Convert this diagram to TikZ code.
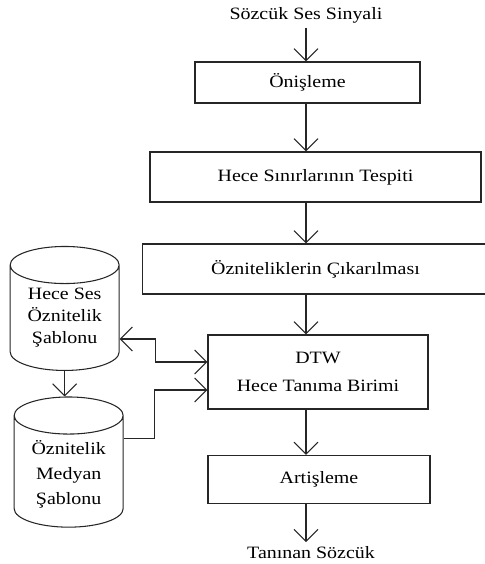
\documentclass[tikz,border=0pt]{standalone}
\usepackage{fontspec}
\setmainfont{Liberation Serif}[FakeStretch=1.15]
\usetikzlibrary{shapes.geometric,arrows.meta,positioning}

\tikzstyle{block} = [rectangle, draw=black!85, line width=0.8pt, text centered, align=center, inner sep=0pt]
\tikzstyle{base} = [cylinder, shape border rotate=90, draw=black!85, line width=0.8pt, aspect=0.5,
    align=center, minimum width=81.75pt, inner sep=0pt]
\tikzstyle{line} = [draw, line width=0.8pt, color=black!85, ->]

\begin{document}
\begin{tikzpicture}[node distance=70pt, font=\fontsize{13}{17}\selectfont,
    >={Straight Barb[length=9pt,width=18pt]}]
	\useasboundingbox (0,0) rectangle (363.75pt,-423pt);
	% Nodes
	\node (Sozcuk) at (229.5pt,-11.25pt) {Sözcük Ses Sinyali};
	\node [block, below of=Sozcuk, node distance=50.6pt, xshift=1.1pt, minimum width=168.75pt, minimum height=30.75pt] (Onisleme) {Önişleme};
	\node [block, below of=Onisleme, node distance=70.9pt, xshift=6pt, minimum width=248.25pt, minimum height=37.5pt] (Hece) {Hece Sınırlarının Tespiti};
	\node [block, below of=Hece, node distance=69pt, minimum width=259.5pt, minimum height=37.5pt] (Oznitelik) {Özniteliklerin Çıkarılması};
	\node [block, below of=Oznitelik, node distance=77.25pt, xshift=1.9pt, minimum width=165pt, minimum height=55.5pt] (DTW) {DTW\\[4pt]Hece Tanıma Birimi};
	\node [block, below of=DTW, node distance=80.6pt, xshift=0.75pt, minimum width=166.5pt, minimum height=36pt] (Artisleme) {Artişleme};
	\node [below of=Artisleme, node distance=55.1pt, xshift=-6pt] (Taninan) {Tanınan Sözcük};
	\node [base, left of=DTW, node distance=190pt, yshift=40.5pt, minimum height=93pt, font=\fontsize{13}{16.5}\selectfont] (HeceSablon) {Hece Ses\\Öznitelik\\Şablonu};
	\node [base, below of=HeceSablon, node distance=115.2pt, xshift=3pt, minimum height=96.25pt, font=\fontsize{13}{18.75}\selectfont] (MedyanSablon) {\rule{0pt}{15.25pt}Öznitelik\\Medyan\\Şablonu};

	% Arrows
	\path [line] (Sozcuk.south) -- (Sozcuk.south |- Onisleme.north);
	\path [line] (Onisleme.south -| Sozcuk) -- (Hece.north -| Sozcuk);
	\path [line] (Hece.south -| Sozcuk) -- (Oznitelik.north -| Sozcuk);
	\path [line] (Oznitelik.south -| Sozcuk) -- (DTW.north -| Sozcuk);
	\path [line] (DTW.south -| Sozcuk) -- (Artisleme.north -| Sozcuk);
	\path [line] (Artisleme.south -| Sozcuk) -- (Taninan.north -| Sozcuk);
	\path [line] (HeceSablon.south) -- (HeceSablon.south |- MedyanSablon.north);
	\path [line, <->] ([yshift=-15.75pt]HeceSablon.east) -- ++(27pt,0) |- ([yshift=7.5pt]DTW.west);
	\path [line] ([yshift=24.5pt]MedyanSablon.east) -- ++(23.25pt,0) |- ([yshift=-13.5pt]DTW.west);

\end{tikzpicture}
\end{document}
